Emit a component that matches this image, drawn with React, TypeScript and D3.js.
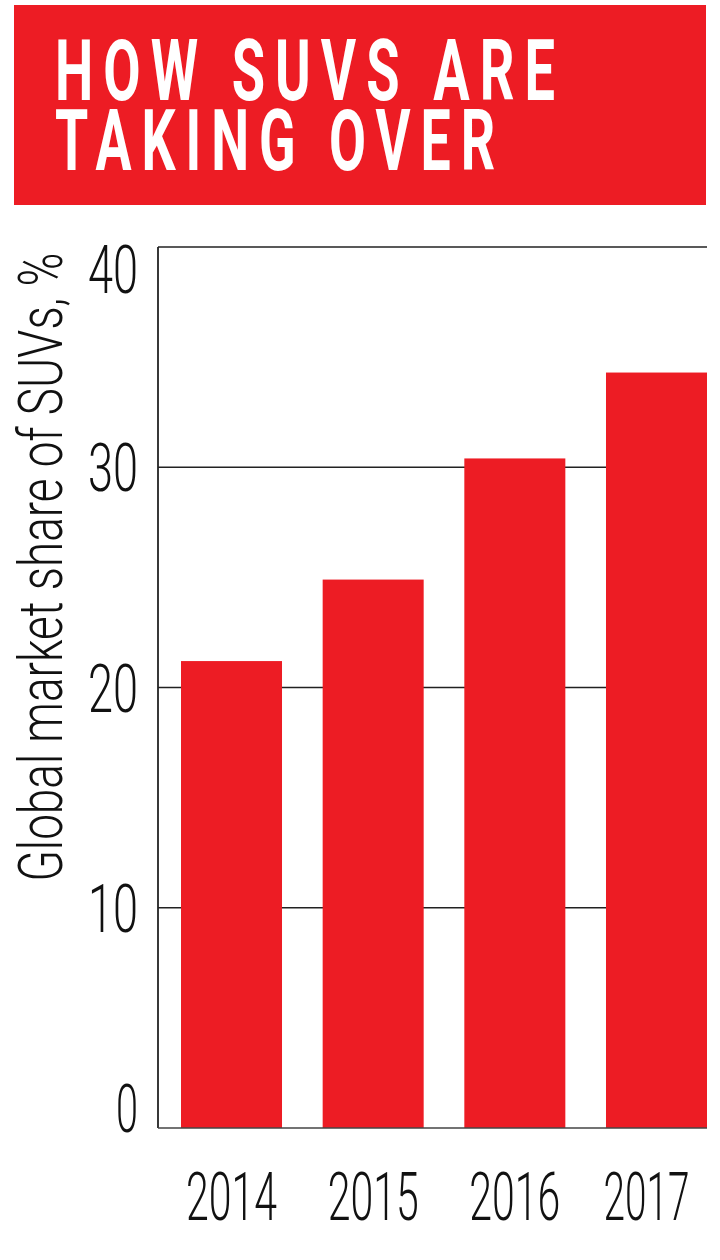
import React from "react";
import * as d3 from "d3";

const years = ["2014", "2015", "2016", "2017"];
const shares = [21.2, 24.9, 30.4, 34.3];
const yTicks = [0, 10, 20, 30, 40];
const titleLines = ["HOW SUVS ARE", "TAKING OVER"];
const yLabel = "Global market share of SUVs, %";

const RED = "#ED1C24";
const W = 720;
const H = 1260;
const plot = { left: 158, right: 707, top: 247, bottom: 1128 };

export default function App() {
  const y = d3.scaleLinear().domain([0, 40]).range([plot.bottom, plot.top]);
  const x = d3
    .scaleBand<string>()
    .domain(years)
    .range([181, plot.right])
    .paddingInner(0.287)
    .paddingOuter(0);

  const digitFont = "Roboto, 'DejaVu Sans', sans-serif";

  return (
    <svg
      width={W}
      height={H}
      viewBox={`0 0 ${W} ${H}`}
      style={{ position: "absolute", left: 0, top: 0, background: "#fff" }}
    >
      {/* Title box */}
      <rect x={14} y={5} width={692} height={200} fill={RED} />
      {titleLines.map((t, i) => (
        <text
          key={t}
          x={55}
          y={100 + i * 70}
          fill="#fff"
          fontFamily="Roboto, 'DejaVu Sans', sans-serif"
          fontWeight={700}
          fontSize={86}
          letterSpacing="16"
          textLength={i === 0 ? 510 : 450}
          lengthAdjust="spacingAndGlyphs"
        >
          {t}
        </text>
      ))}

      {/* Gridlines (behind bars) */}
      {yTicks
        .filter((v) => v > 0 && v < 40)
        .map((v) => (
          <line
            key={v}
            x1={plot.left}
            x2={plot.right}
            y1={y(v)}
            y2={y(v)}
            stroke="#222"
            strokeWidth={1.6}
          />
        ))}

      {/* Bars */}
      {years.map((yr, i) => (
        <rect
          key={yr}
          x={x(yr)}
          y={y(shares[i])}
          width={x.bandwidth()}
          height={plot.bottom - y(shares[i])}
          fill={RED}
        />
      ))}

      {/* Axes frame: left, top, bottom */}
      <line x1={plot.left} x2={plot.left} y1={plot.top} y2={plot.bottom} stroke="#222" strokeWidth={1.8} />
      <line x1={plot.left} x2={plot.right} y1={plot.top} y2={plot.top} stroke="#222" strokeWidth={1.6} />
      <line x1={plot.left} x2={plot.right} y1={plot.bottom} y2={plot.bottom} stroke="#444" strokeWidth={1.6} />

      {/* Y tick labels */}
      {yTicks.map((v) => {
        const c = Math.min(Math.max(y(v), plot.top + 22), plot.bottom - 20);
        const label = String(v);
        return (
          <text
            key={v}
            x={138}
            y={c + 24}
            textAnchor="end"
            fontFamily={digitFont}
            fontWeight={300}
            fontSize={67}
            textLength={label.length === 1 ? 22 : 50}
            lengthAdjust="spacingAndGlyphs"
            fill="#111"
          >
            {label}
          </text>
        );
      })}

      {/* X labels */}
      {years.map((yr) => (
        <text
          key={yr}
          x={(x(yr) as number) + x.bandwidth() / 2 - (yr === "2017" ? 10 : 0)}
          y={1220}
          textAnchor="middle"
          fontFamily={digitFont}
          fontWeight={300}
          fontSize={67}
          textLength={yr === "2017" ? 86 : 91}
          lengthAdjust="spacingAndGlyphs"
          fill="#111"
        >
          {yr}
        </text>
      ))}

      {/* Y axis title */}
      <text
        transform={`translate(62, 567) rotate(-90)`}
        textAnchor="middle"
        fontFamily={digitFont}
        fontWeight={300}
        fontSize={62}
        textLength={629}
        lengthAdjust="spacingAndGlyphs"
        fill="#111"
      >
        {yLabel}
      </text>
    </svg>
  );
}
